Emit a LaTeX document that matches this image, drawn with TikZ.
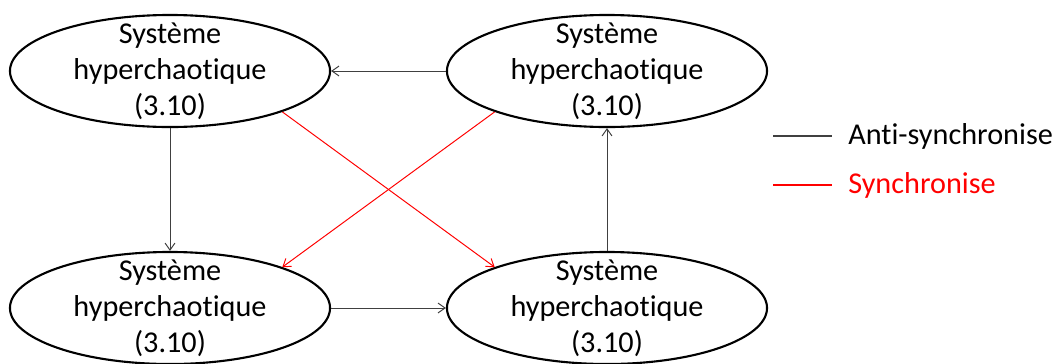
\documentclass[tikz,border=0pt]{standalone}
\usepackage{fontspec}
\setmainfont{Carlito}[Ligatures=NoCommon]
\usetikzlibrary{shapes.geometric,arrows.meta}

\begin{document}
\begin{tikzpicture}[
  x=0.025cm, y=-0.025cm,
  every node/.style={font=\fontsize{21.5}{25.6}\selectfont},
  sys/.style={draw, ellipse, line width=1.5pt, minimum width=8cm, minimum height=2.8cm, inner xsep=0pt, inner ysep=-20pt, align=center},
  anti/.style={-{Straight Barb[length=5pt,width=7pt]}, draw=black!75, line width=0.7pt},
  sync/.style={-{Straight Barb[length=5pt,width=7pt]}, draw=red, line width=0.7pt}
]
  \useasboundingbox (0,0) rectangle (1060,363);

  \node[sys] (s1) at (170,71)  {Système\\hyperchaotique\\(3.10)};
  \node[sys] (s2) at (607,71)  {Système\\hyperchaotique\\(3.10)};
  \node[sys] (s3) at (170,308) {Système\\hyperchaotique\\(3.10)};
  \node[sys] (s4) at (607,308) {Système\\hyperchaotique\\(3.10)};

  \draw[anti] (s2) -- (s1);
  \draw[anti] (s1) -- (s3);
  \draw[anti] (s3) -- (s4);
  \draw[anti] (s4) -- (s2);
  \draw[sync] (s1.-20) -- (s4.160);
  \draw[sync] (s2.200) -- (s3.20);

  % legend
  \coordinate (k1a) at (773,136);
  \coordinate (k1b) at (832,136);
  \coordinate (k2a) at (773,185);
  \coordinate (k2b) at (832,185);
  \draw[draw=black!75, line width=0.8pt] (k1a) -- (k1b);
  \draw[draw=red, line width=0.8pt] (k2a) -- (k2b);
  \node[anchor=west, inner sep=0pt] (lg1) at (848,136) {Anti-synchronise};
  \node[anchor=west, inner sep=0pt, text=red] (lg2) at (848,185) {Synchronise};
\end{tikzpicture}
\end{document}
